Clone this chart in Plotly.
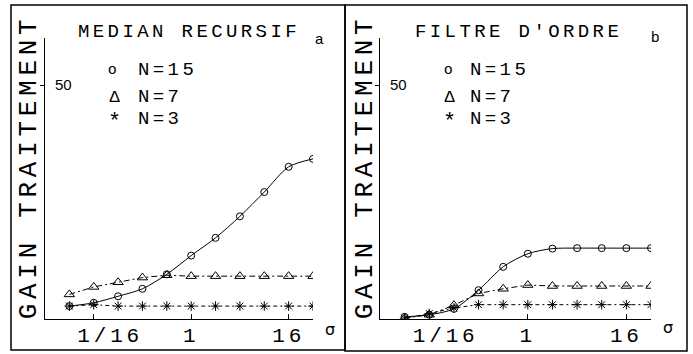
import plotly.graph_objects as go
import math

# ---------------- data ----------------
sigma = [1/32, 1/16, 1/8, 1/4, 1/2, 1, 2, 4, 8, 16, 32]

gain_a_n15 = [2.7, 3.4, 4.8, 6.4, 9.5, 13.5, 17.3, 21.9, 27.1, 32.5, 34.2]
gain_a_n7 = [5.2, 6.8, 7.8, 8.8, 9.3, 9.1, 9.1, 9.1, 9.1, 9.1, 9.1]
gain_a_n3 = [2.7, 3.0, 2.7, 2.7, 2.7, 2.7, 2.7, 2.7, 2.7, 2.7, 2.7]

gain_b_n15 = [0.4, 0.85, 2.1, 6.1, 11.1, 13.9, 15.0, 15.1, 15.1, 15.1, 15.1]
gain_b_n7 = [0.1, 0.85, 2.9, 5.4, 6.4, 7.2, 7.0, 7.0, 7.0, 7.0, 7.0]
gain_b_n3 = [0.1, 1.1, 2.3, 3.0, 3.0, 3.0, 3.0, 3.0, 3.0, 3.0, 3.0]

x_tickvals = [1/16, 1, 16]
x_ticktext = ["\u00a0\u00a01/16", "1", "16"]
y_tickvals = [50]
y_ticktext = ["50"]

panel_titles = ["MEDIAN RECURSIF", "FILTRE D'ORDRE"]
panel_letters = ["a", "b"]
series_labels = ["N=15", "N=7", "N=3"]
series_symbols_txt = ["o", "\u0394", "*"]
y_title = "GAIN TRAITEMENT"
x_title = "\u03c3"

# ---------------- layout helpers ----------------
W, H = 693, 354
def px(x):
    return x / W
def py(y):
    return 1 - y / H

MONO = "Liberation Mono"
ink = "black"

fig = go.Figure()

styles = [
    dict(symbol="circle-open", size=7, dash="solid", shape="spline"),
    dict(symbol="triangle-up-open", size=9, dash="6px,3px,2px,3px", shape="linear"),
    dict(symbol="asterisk-open", size=8, dash="4px,3px,2px,3px", shape="linear"),
]

panels = [
    ("x", "y", [gain_a_n15, gain_a_n7, gain_a_n3]),
    ("x2", "y2", [gain_b_n15, gain_b_n7, gain_b_n3]),
]
for xa, ya, series in panels:
    for lab, vals, st in zip(series_labels, series, styles):
        fig.add_trace(go.Scatter(
            x=sigma, y=vals, xaxis=xa, yaxis=ya, name=lab, mode="lines+markers",
            line=dict(color=ink, width=1, dash=st["dash"], shape=st["shape"], smoothing=0.8),
            marker=dict(symbol=st["symbol"], size=st["size"], color=ink,
                        line=dict(color=ink, width=1)),
            showlegend=False,
        ))

xr = [math.log10(1/64), math.log10(32)]
ydom = [py(318.7), py(38.3)]

common_x = dict(type="log", range=xr, showline=True, linecolor=ink, linewidth=1,
                showgrid=False, zeroline=False, tickvals=x_tickvals, ticktext=x_ticktext,
                ticks="inside", ticklen=5, tickcolor=ink,
                tickfont=dict(family=MONO, size=21, color=ink), ticklabelstandoff=-3)
common_y = dict(range=[0, 60], showline=True, linecolor=ink, linewidth=1,
                showgrid=False, zeroline=False, tickvals=y_tickvals, ticktext=y_ticktext,
                ticks="outside", ticklen=4, tickcolor=ink, ticklabelposition="inside",
                ticklabelstandoff=10,
                tickfont=dict(family="Liberation Sans", size=15, color=ink))

fig.update_layout(
    width=W, height=H, margin=dict(l=0, r=0, t=0, b=0),
    paper_bgcolor="white", plot_bgcolor="white",
    xaxis=dict(domain=[px(45), px(313)], anchor="y", **common_x),
    yaxis=dict(domain=ydom, anchor="x", **common_y),
    xaxis2=dict(domain=[px(380), px(651)], anchor="y2", **common_x),
    yaxis2=dict(domain=ydom, anchor="x2", **common_y),
)

# frames
fig.add_shape(type="rect", xref="paper", yref="paper",
              x0=px(11), x1=px(345), y0=py(350), y1=py(5),
              line=dict(color=ink, width=1.5))
fig.add_shape(type="rect", xref="paper", yref="paper",
              x0=px(345), x1=px(687), y0=py(351), y1=py(5),
              line=dict(color=ink, width=1.5))

def ann(text, x, y, size, xanchor="center", family=MONO, angle=0):
    fig.add_annotation(text=text, x=px(x), y=py(y), xref="paper", yref="paper",
                       xanchor=xanchor, yanchor="middle", showarrow=False,
                       align="left" if xanchor == "left" else "center",
                       textangle=angle, borderpad=0,
                       font=dict(family=family, size=size, color=ink))

title_x = [77, 414]
letter_pos = [(320, 41), (656, 38)]
sym_x = [[113, 116, 116], [449, 451, 451]]
lab_x = [137, 469]
row_y = [70, 97.5, 119]
ytitle_x = [29, 365]
sigma_pos = [(330, 329), (668, 327)]
sym_sizes = [15, 17, 22]
sym_dy = [0, 0, 4]

for i in range(2):
    ann(panel_titles[i], title_x[i], 32, 19, xanchor="left")
    ann(panel_letters[i], letter_pos[i][0], letter_pos[i][1], 15)
    for j in range(3):
        ann(series_symbols_txt[j], sym_x[i][j], row_y[j] + sym_dy[j], sym_sizes[j])
        ann(series_labels[j], lab_x[i], row_y[j], 19, xanchor="left")
    ann(y_title, ytitle_x[i], 167, 26, angle=-90)
    ann(x_title, sigma_pos[i][0], sigma_pos[i][1], 16, family="DejaVu Sans")

post = """
var gd = document.getElementById('{plot_id}');
gd.querySelectorAll('text').forEach(function(t){
  var f = t.style.fontFamily || '';
  if (f.indexOf('Mono') >= 0) {
    var s = parseFloat(t.style.fontSize);
    t.style.letterSpacing = (s * 0.18).toFixed(1) + 'px';
  }
});
"""

fig.write_html("out.html", post_script=post)
